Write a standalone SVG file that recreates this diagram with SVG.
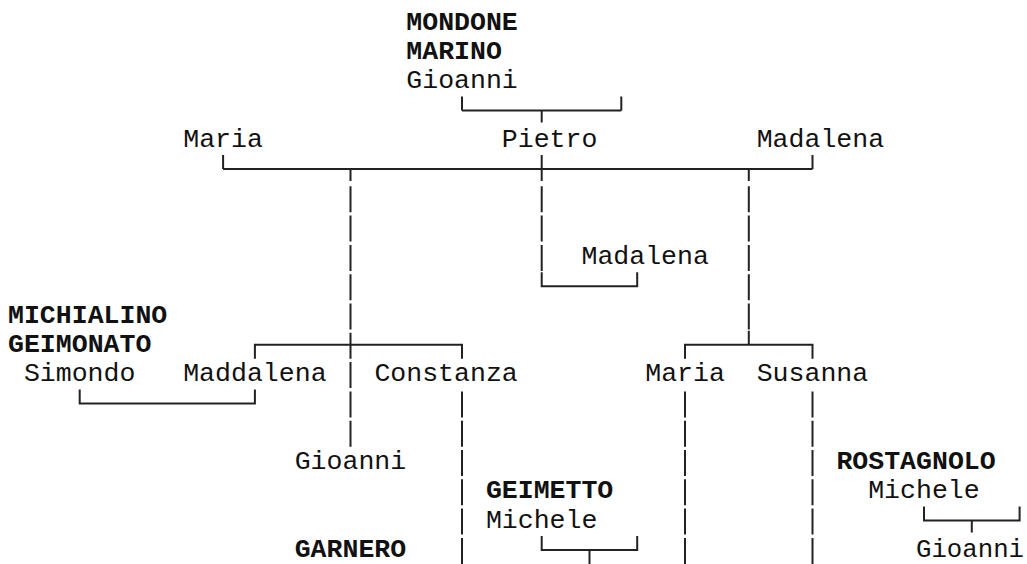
<svg xmlns="http://www.w3.org/2000/svg" width="1027" height="564" viewBox="0 0 1027 564">
<style>
text{font-family:"Liberation Mono","DejaVu Sans Mono",monospace;font-size:25.5px;fill:#111;}
.cap{font-weight:bold;}
.ln{stroke:#222;stroke-width:2;fill:none;stroke-linecap:butt;}
.dash{stroke-dasharray:26 3.3;}
</style>
<rect width="1027" height="564" fill="#fff"/>
<g id="connectors">
<path class="ln" d="M462 110.4H621.3M462 96.4V110.4M621.3 96.4V110.4M541.7 110.4V122.4"/>
<path class="ln" d="M223.1 169H812.5M223.1 155V169M812.5 155V169M350.5 169V181M541.7 155V181M748.8 169V181"/>
<path class="ln dash" d="M350.5 186.3V446.7M541.7 186.3V270.9M748.8 186.3V329.5"/>
<path class="ln" d="M541.7 272.2V286.2H637.2V272.2"/>
<path class="ln" d="M748.8 330.8V344.8M254.9 358.8V344.8H462V358.8M685 358.8V344.8H812.5V358.8"/>
<path class="ln" d="M79.7 389.4V403.4H254.9V389.4"/>
<path class="ln dash" d="M462 391.4V564M685 391.4V564M812.5 391.4V564"/>
<path class="ln" d="M924 506.6V520.6H1019.6V506.6M971.8 520.6V532.6"/>
<path class="ln" d="M541.7 535.9V549.9H637.2V535.9M589.5 549.9V564"/>
</g>
<g id="n-mondone">
<text class="cap" x="406.3" y="29.5" textLength="111.5" lengthAdjust="spacingAndGlyphs">MONDONE</text>
<text class="cap" x="406.3" y="58.8" textLength="95.6" lengthAdjust="spacingAndGlyphs">MARINO</text>
<text x="406.3" y="88.1" textLength="111.5" lengthAdjust="spacingAndGlyphs">Gioanni</text>
</g>
<g id="n-maria1"><text x="183.2" y="146.7" textLength="79.7" lengthAdjust="spacingAndGlyphs">Maria</text></g>
<g id="n-pietro"><text x="501.8" y="146.7" textLength="95.6" lengthAdjust="spacingAndGlyphs">Pietro</text></g>
<g id="n-madalena1"><text x="756.7" y="146.7" textLength="127.4" lengthAdjust="spacingAndGlyphs">Madalena</text></g>
<g id="n-madalena2"><text x="581.5" y="263.9" textLength="127.4" lengthAdjust="spacingAndGlyphs">Madalena</text></g>
<g id="n-michialino">
<text class="cap" x="8" y="322.5" textLength="159.3" lengthAdjust="spacingAndGlyphs">MICHIALINO</text>
<text class="cap" x="8" y="351.8" textLength="143.4" lengthAdjust="spacingAndGlyphs">GEIMONATO</text>
<text x="23.9" y="381.1" textLength="111.5" lengthAdjust="spacingAndGlyphs">Simondo</text>
</g>
<g id="n-maddalena"><text x="183.2" y="381.1" textLength="143.4" lengthAdjust="spacingAndGlyphs">Maddalena</text></g>
<g id="n-constanza"><text x="374.4" y="381.1" textLength="143.4" lengthAdjust="spacingAndGlyphs">Constanza</text></g>
<g id="n-maria2"><text x="645.2" y="381.1" textLength="79.7" lengthAdjust="spacingAndGlyphs">Maria</text></g>
<g id="n-susanna"><text x="756.7" y="381.1" textLength="111.5" lengthAdjust="spacingAndGlyphs">Susanna</text></g>
<g id="n-gioanni2"><text x="294.7" y="469" textLength="111.5" lengthAdjust="spacingAndGlyphs">Gioanni</text></g>
<g id="n-garnero"><text class="cap" x="294.7" y="556.9" textLength="111.5" lengthAdjust="spacingAndGlyphs">GARNERO</text></g>
<g id="n-geimetto">
<text class="cap" x="485.9" y="498.3" textLength="127.4" lengthAdjust="spacingAndGlyphs">GEIMETTO</text>
<text x="485.9" y="527.6" textLength="111.5" lengthAdjust="spacingAndGlyphs">Michele</text>
</g>
<g id="n-rostagnolo">
<text class="cap" x="836.4" y="469" textLength="159.3" lengthAdjust="spacingAndGlyphs">ROSTAGNOLO</text>
<text x="868.2" y="498.3" textLength="111.5" lengthAdjust="spacingAndGlyphs">Michele</text>
</g>
<g id="n-gioanni3"><text x="916" y="556.9" textLength="108" lengthAdjust="spacingAndGlyphs">Gioanni</text></g>
</svg>
